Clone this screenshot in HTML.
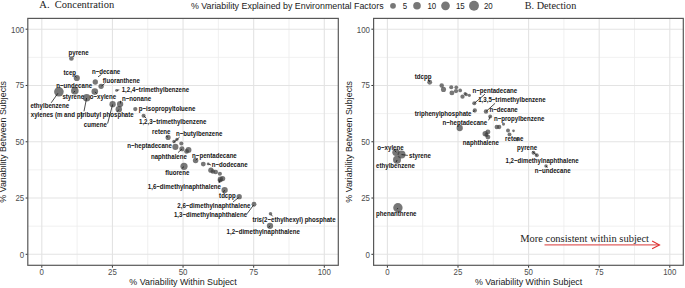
<!DOCTYPE html><html><head><meta charset="utf-8"><style>html,body{margin:0;padding:0;background:#fff;width:685px;height:288px;overflow:hidden}svg{display:block}text{font-family:"Liberation Sans",sans-serif}.s{font-family:"Liberation Serif",serif}.lb{font-size:7.40px;font-weight:bold;fill:#151515}.tk{font-size:8.6px;fill:#4d4d4d}.ti{font-size:8.9px;fill:#1a1a1a}</style></head><body>
<svg width="685" height="288" viewBox="0 0 685 288">
<rect width="685" height="288" fill="#fff"/>
<line x1="77.11" y1="18.4" x2="77.11" y2="265.3" stroke="#ececec" stroke-width="0.8"/>
<line x1="27.8" y1="226.16" x2="338.3" y2="226.16" stroke="#ececec" stroke-width="0.8"/>
<line x1="147.74" y1="18.4" x2="147.74" y2="265.3" stroke="#ececec" stroke-width="0.8"/>
<line x1="27.8" y1="169.89" x2="338.3" y2="169.89" stroke="#ececec" stroke-width="0.8"/>
<line x1="218.36" y1="18.4" x2="218.36" y2="265.3" stroke="#ececec" stroke-width="0.8"/>
<line x1="27.8" y1="113.61" x2="338.3" y2="113.61" stroke="#ececec" stroke-width="0.8"/>
<line x1="288.99" y1="18.4" x2="288.99" y2="265.3" stroke="#ececec" stroke-width="0.8"/>
<line x1="27.8" y1="57.34" x2="338.3" y2="57.34" stroke="#ececec" stroke-width="0.8"/>
<line x1="41.80" y1="18.4" x2="41.80" y2="265.3" stroke="#e3e3e3" stroke-width="1.1"/>
<line x1="27.8" y1="254.30" x2="338.3" y2="254.30" stroke="#e3e3e3" stroke-width="1.1"/>
<line x1="112.42" y1="18.4" x2="112.42" y2="265.3" stroke="#e3e3e3" stroke-width="1.1"/>
<line x1="27.8" y1="198.03" x2="338.3" y2="198.03" stroke="#e3e3e3" stroke-width="1.1"/>
<line x1="183.05" y1="18.4" x2="183.05" y2="265.3" stroke="#e3e3e3" stroke-width="1.1"/>
<line x1="27.8" y1="141.75" x2="338.3" y2="141.75" stroke="#e3e3e3" stroke-width="1.1"/>
<line x1="253.68" y1="18.4" x2="253.68" y2="265.3" stroke="#e3e3e3" stroke-width="1.1"/>
<line x1="27.8" y1="85.48" x2="338.3" y2="85.48" stroke="#e3e3e3" stroke-width="1.1"/>
<line x1="324.30" y1="18.4" x2="324.30" y2="265.3" stroke="#e3e3e3" stroke-width="1.1"/>
<line x1="27.8" y1="29.20" x2="338.3" y2="29.20" stroke="#e3e3e3" stroke-width="1.1"/>
<line x1="41.80" y1="265.3" x2="41.80" y2="267.70" stroke="#333" stroke-width="1"/>
<line x1="25.60" y1="254.30" x2="27.8" y2="254.30" stroke="#333" stroke-width="1"/>
<text class="tk" transform="translate(41.80,275.2) scale(0.92,1)" text-anchor="middle">0</text>
<text class="tk" transform="translate(24.20,258) scale(0.92,1)" text-anchor="end">0</text>
<line x1="112.42" y1="265.3" x2="112.42" y2="267.70" stroke="#333" stroke-width="1"/>
<line x1="25.60" y1="198.03" x2="27.8" y2="198.03" stroke="#333" stroke-width="1"/>
<text class="tk" transform="translate(112.42,275.2) scale(0.92,1)" text-anchor="middle">25</text>
<text class="tk" transform="translate(24.20,201) scale(0.92,1)" text-anchor="end">25</text>
<line x1="183.05" y1="265.3" x2="183.05" y2="267.70" stroke="#333" stroke-width="1"/>
<line x1="25.60" y1="141.75" x2="27.8" y2="141.75" stroke="#333" stroke-width="1"/>
<text class="tk" transform="translate(183.05,275.2) scale(0.92,1)" text-anchor="middle">50</text>
<text class="tk" transform="translate(24.20,145) scale(0.92,1)" text-anchor="end">50</text>
<line x1="253.68" y1="265.3" x2="253.68" y2="267.70" stroke="#333" stroke-width="1"/>
<line x1="25.60" y1="85.48" x2="27.8" y2="85.48" stroke="#333" stroke-width="1"/>
<text class="tk" transform="translate(253.68,275.2) scale(0.92,1)" text-anchor="middle">75</text>
<text class="tk" transform="translate(24.20,88) scale(0.92,1)" text-anchor="end">75</text>
<line x1="324.30" y1="265.3" x2="324.30" y2="267.70" stroke="#333" stroke-width="1"/>
<line x1="25.60" y1="29.20" x2="27.8" y2="29.20" stroke="#333" stroke-width="1"/>
<text class="tk" transform="translate(324.30,275.2) scale(0.92,1)" text-anchor="middle">100</text>
<text class="tk" transform="translate(24.20,32.6) scale(0.92,1)" text-anchor="end">100</text>
<text class="ti" x="183.05" y="284.9" text-anchor="middle">% Variability Within Subject</text>
<text class="ti" x="0" y="0" text-anchor="middle" transform="translate(6.30,141.85) rotate(-90)">% Variability Between Subjects</text>
<line x1="422.70" y1="18.4" x2="422.70" y2="265.3" stroke="#ececec" stroke-width="0.8"/>
<line x1="373.6" y1="226.16" x2="683.3" y2="226.16" stroke="#ececec" stroke-width="0.8"/>
<line x1="493.30" y1="18.4" x2="493.30" y2="265.3" stroke="#ececec" stroke-width="0.8"/>
<line x1="373.6" y1="169.89" x2="683.3" y2="169.89" stroke="#ececec" stroke-width="0.8"/>
<line x1="563.90" y1="18.4" x2="563.90" y2="265.3" stroke="#ececec" stroke-width="0.8"/>
<line x1="373.6" y1="113.61" x2="683.3" y2="113.61" stroke="#ececec" stroke-width="0.8"/>
<line x1="634.50" y1="18.4" x2="634.50" y2="265.3" stroke="#ececec" stroke-width="0.8"/>
<line x1="373.6" y1="57.34" x2="683.3" y2="57.34" stroke="#ececec" stroke-width="0.8"/>
<line x1="387.40" y1="18.4" x2="387.40" y2="265.3" stroke="#e3e3e3" stroke-width="1.1"/>
<line x1="373.6" y1="254.30" x2="683.3" y2="254.30" stroke="#e3e3e3" stroke-width="1.1"/>
<line x1="458.00" y1="18.4" x2="458.00" y2="265.3" stroke="#e3e3e3" stroke-width="1.1"/>
<line x1="373.6" y1="198.03" x2="683.3" y2="198.03" stroke="#e3e3e3" stroke-width="1.1"/>
<line x1="528.60" y1="18.4" x2="528.60" y2="265.3" stroke="#e3e3e3" stroke-width="1.1"/>
<line x1="373.6" y1="141.75" x2="683.3" y2="141.75" stroke="#e3e3e3" stroke-width="1.1"/>
<line x1="599.20" y1="18.4" x2="599.20" y2="265.3" stroke="#e3e3e3" stroke-width="1.1"/>
<line x1="373.6" y1="85.48" x2="683.3" y2="85.48" stroke="#e3e3e3" stroke-width="1.1"/>
<line x1="669.80" y1="18.4" x2="669.80" y2="265.3" stroke="#e3e3e3" stroke-width="1.1"/>
<line x1="373.6" y1="29.20" x2="683.3" y2="29.20" stroke="#e3e3e3" stroke-width="1.1"/>
<line x1="387.40" y1="265.3" x2="387.40" y2="267.70" stroke="#333" stroke-width="1"/>
<line x1="371.40" y1="254.30" x2="373.6" y2="254.30" stroke="#333" stroke-width="1"/>
<text class="tk" transform="translate(387.40,275.2) scale(0.92,1)" text-anchor="middle">0</text>
<text class="tk" transform="translate(370.00,258) scale(0.92,1)" text-anchor="end">0</text>
<line x1="458.00" y1="265.3" x2="458.00" y2="267.70" stroke="#333" stroke-width="1"/>
<line x1="371.40" y1="198.03" x2="373.6" y2="198.03" stroke="#333" stroke-width="1"/>
<text class="tk" transform="translate(458.00,275.2) scale(0.92,1)" text-anchor="middle">25</text>
<text class="tk" transform="translate(370.00,201) scale(0.92,1)" text-anchor="end">25</text>
<line x1="528.60" y1="265.3" x2="528.60" y2="267.70" stroke="#333" stroke-width="1"/>
<line x1="371.40" y1="141.75" x2="373.6" y2="141.75" stroke="#333" stroke-width="1"/>
<text class="tk" transform="translate(528.60,275.2) scale(0.92,1)" text-anchor="middle">50</text>
<text class="tk" transform="translate(370.00,145) scale(0.92,1)" text-anchor="end">50</text>
<line x1="599.20" y1="265.3" x2="599.20" y2="267.70" stroke="#333" stroke-width="1"/>
<line x1="371.40" y1="85.48" x2="373.6" y2="85.48" stroke="#333" stroke-width="1"/>
<text class="tk" transform="translate(599.20,275.2) scale(0.92,1)" text-anchor="middle">75</text>
<text class="tk" transform="translate(370.00,88) scale(0.92,1)" text-anchor="end">75</text>
<line x1="669.80" y1="265.3" x2="669.80" y2="267.70" stroke="#333" stroke-width="1"/>
<line x1="371.40" y1="29.20" x2="373.6" y2="29.20" stroke="#333" stroke-width="1"/>
<text class="tk" transform="translate(669.80,275.2) scale(0.92,1)" text-anchor="middle">100</text>
<text class="tk" transform="translate(370.00,32.6) scale(0.92,1)" text-anchor="end">100</text>
<text class="ti" x="528.60" y="284.9" text-anchor="middle">% Variability Within Subject</text>
<text class="ti" x="0" y="0" text-anchor="middle" transform="translate(352.10,141.85) rotate(-90)">% Variability Between Subjects</text>
<text class="s" x="39.3" y="7.9" font-size="10.5" fill="#222" xml:space="preserve">A.  Concentration</text>
<text class="s" x="524.8" y="8.8" font-size="10.2" fill="#222">B. Detection</text>
<text class="ti" x="190.9" y="9.2">% Variability Explained by Environmental Factors</text>
<circle cx="393" cy="5.8" r="2.9" fill="#3d3d3d" fill-opacity="0.7"/>
<text class="tk" transform="translate(402.8,9.0) scale(0.92,1)" style="fill:#222">5</text>
<circle cx="417" cy="5.8" r="3.8" fill="#3d3d3d" fill-opacity="0.7"/>
<text class="tk" transform="translate(427.4,9.0) scale(0.92,1)" style="fill:#222">10</text>
<circle cx="445.5" cy="5.8" r="4.35" fill="#3d3d3d" fill-opacity="0.7"/>
<text class="tk" transform="translate(455.9,9.0) scale(0.92,1)" style="fill:#222">15</text>
<circle cx="474" cy="5.8" r="4.95" fill="#3d3d3d" fill-opacity="0.7"/>
<text class="tk" transform="translate(483.9,9.0) scale(0.92,1)" style="fill:#222">20</text>
<circle cx="71.4" cy="58.5" r="2.35" fill="#3d3d3d" fill-opacity="0.7"/>
<circle cx="76.8" cy="78" r="3.1" fill="#3d3d3d" fill-opacity="0.7"/>
<circle cx="95.3" cy="82" r="2.65" fill="#3d3d3d" fill-opacity="0.7"/>
<circle cx="101.1" cy="86.3" r="2.65" fill="#3d3d3d" fill-opacity="0.7"/>
<circle cx="74.8" cy="90.7" r="3.8" fill="#3d3d3d" fill-opacity="0.7"/>
<circle cx="58.9" cy="91.8" r="4.8" fill="#3d3d3d" fill-opacity="0.7"/>
<circle cx="94.8" cy="91.6" r="3.3" fill="#3d3d3d" fill-opacity="0.7"/>
<circle cx="116.6" cy="90.4" r="1.45" fill="#3d3d3d" fill-opacity="0.7"/>
<circle cx="86.7" cy="97.7" r="3.8" fill="#3d3d3d" fill-opacity="0.7"/>
<circle cx="120.1" cy="104.1" r="3.15" fill="#3d3d3d" fill-opacity="0.7"/>
<circle cx="112.6" cy="104.2" r="3.15" fill="#3d3d3d" fill-opacity="0.7"/>
<circle cx="118.8" cy="109.3" r="3.2" fill="#3d3d3d" fill-opacity="0.7"/>
<circle cx="135.3" cy="109.1" r="2.15" fill="#3d3d3d" fill-opacity="0.7"/>
<circle cx="143.6" cy="115.8" r="2.05" fill="#3d3d3d" fill-opacity="0.7"/>
<circle cx="168.1" cy="137.4" r="2.55" fill="#3d3d3d" fill-opacity="0.7"/>
<circle cx="175.4" cy="146.9" r="3.05" fill="#3d3d3d" fill-opacity="0.7"/>
<circle cx="181.3" cy="143.5" r="2.05" fill="#3d3d3d" fill-opacity="0.7"/>
<circle cx="181.9" cy="148.8" r="2.55" fill="#3d3d3d" fill-opacity="0.7"/>
<circle cx="188.5" cy="149.9" r="2.95" fill="#3d3d3d" fill-opacity="0.7"/>
<circle cx="186.6" cy="151.4" r="2.45" fill="#3d3d3d" fill-opacity="0.7"/>
<circle cx="195.6" cy="160.5" r="2.75" fill="#3d3d3d" fill-opacity="0.7"/>
<circle cx="184" cy="166.3" r="3.6" fill="#3d3d3d" fill-opacity="0.7"/>
<circle cx="203.3" cy="164.1" r="2.45" fill="#3d3d3d" fill-opacity="0.7"/>
<circle cx="208.2" cy="163.9" r="1.45" fill="#3d3d3d" fill-opacity="0.7"/>
<circle cx="174.0" cy="141.6" r="1.75" fill="#3d3d3d" fill-opacity="0.7"/>
<circle cx="176.9" cy="139.3" r="1.65" fill="#3d3d3d" fill-opacity="0.7"/>
<circle cx="210.9" cy="170.2" r="2.65" fill="#3d3d3d" fill-opacity="0.7"/>
<circle cx="212.8" cy="171.4" r="2.25" fill="#3d3d3d" fill-opacity="0.7"/>
<circle cx="215.7" cy="172" r="2.35" fill="#3d3d3d" fill-opacity="0.7"/>
<circle cx="219.9" cy="173.8" r="2.05" fill="#3d3d3d" fill-opacity="0.7"/>
<circle cx="222.6" cy="178.6" r="2.65" fill="#3d3d3d" fill-opacity="0.7"/>
<circle cx="220.4" cy="179.2" r="2.65" fill="#3d3d3d" fill-opacity="0.7"/>
<circle cx="219.9" cy="180.6" r="2.15" fill="#3d3d3d" fill-opacity="0.7"/>
<circle cx="224.6" cy="190.1" r="3.15" fill="#3d3d3d" fill-opacity="0.7"/>
<circle cx="239.2" cy="196.7" r="2.65" fill="#3d3d3d" fill-opacity="0.7"/>
<circle cx="254" cy="204.3" r="2.45" fill="#3d3d3d" fill-opacity="0.7"/>
<circle cx="270.5" cy="213.75" r="1.75" fill="#3d3d3d" fill-opacity="0.7"/>
<circle cx="270" cy="225.8" r="3.15" fill="#3d3d3d" fill-opacity="0.7"/>
<circle cx="429.7" cy="82.3" r="2.45" fill="#3d3d3d" fill-opacity="0.7"/>
<circle cx="441.7" cy="85.6" r="2.25" fill="#3d3d3d" fill-opacity="0.7"/>
<circle cx="443.5" cy="89.4" r="2.55" fill="#3d3d3d" fill-opacity="0.7"/>
<circle cx="451.25" cy="87.3" r="2.05" fill="#3d3d3d" fill-opacity="0.7"/>
<circle cx="456.25" cy="87.3" r="1.85" fill="#3d3d3d" fill-opacity="0.7"/>
<circle cx="451.9" cy="92.9" r="2.45" fill="#3d3d3d" fill-opacity="0.7"/>
<circle cx="456" cy="91.1" r="2.15" fill="#3d3d3d" fill-opacity="0.7"/>
<circle cx="460.2" cy="90.4" r="1.85" fill="#3d3d3d" fill-opacity="0.7"/>
<circle cx="462.5" cy="96.7" r="2.15" fill="#3d3d3d" fill-opacity="0.7"/>
<circle cx="465.1" cy="93.6" r="1.55" fill="#3d3d3d" fill-opacity="0.7"/>
<circle cx="466.1" cy="94.6" r="1.75" fill="#3d3d3d" fill-opacity="0.7"/>
<circle cx="469.3" cy="95.3" r="1.65" fill="#3d3d3d" fill-opacity="0.7"/>
<circle cx="474.3" cy="103.3" r="2.05" fill="#3d3d3d" fill-opacity="0.7"/>
<circle cx="486" cy="111.5" r="2.25" fill="#3d3d3d" fill-opacity="0.7"/>
<circle cx="474.8" cy="110.5" r="2.15" fill="#3d3d3d" fill-opacity="0.7"/>
<circle cx="490.2" cy="116.5" r="1.95" fill="#3d3d3d" fill-opacity="0.7"/>
<circle cx="459.7" cy="128" r="3.15" fill="#3d3d3d" fill-opacity="0.7"/>
<circle cx="485.2" cy="133.7" r="2.65" fill="#3d3d3d" fill-opacity="0.7"/>
<circle cx="487.9" cy="131.9" r="2.45" fill="#3d3d3d" fill-opacity="0.7"/>
<circle cx="487.9" cy="137.1" r="2.45" fill="#3d3d3d" fill-opacity="0.7"/>
<circle cx="486.5" cy="134.9" r="2.05" fill="#3d3d3d" fill-opacity="0.7"/>
<circle cx="496.8" cy="127" r="2.25" fill="#3d3d3d" fill-opacity="0.7"/>
<circle cx="499.2" cy="127" r="2.15" fill="#3d3d3d" fill-opacity="0.7"/>
<circle cx="503.5" cy="124.1" r="1.55" fill="#3d3d3d" fill-opacity="0.7"/>
<circle cx="508" cy="130.5" r="1.95" fill="#3d3d3d" fill-opacity="0.7"/>
<circle cx="509.5" cy="134.4" r="1.95" fill="#3d3d3d" fill-opacity="0.7"/>
<circle cx="513.5" cy="130.8" r="1.35" fill="#3d3d3d" fill-opacity="0.7"/>
<circle cx="517.4" cy="139.4" r="1.75" fill="#3d3d3d" fill-opacity="0.7"/>
<circle cx="533.5" cy="152.8" r="1.95" fill="#3d3d3d" fill-opacity="0.7"/>
<circle cx="536.8" cy="155.2" r="1.95" fill="#3d3d3d" fill-opacity="0.7"/>
<circle cx="546" cy="166" r="1.75" fill="#3d3d3d" fill-opacity="0.7"/>
<circle cx="395.9" cy="152.3" r="3.6" fill="#3d3d3d" fill-opacity="0.7"/>
<circle cx="401.5" cy="154.5" r="4.0" fill="#3d3d3d" fill-opacity="0.7"/>
<circle cx="397" cy="159.8" r="4.0" fill="#3d3d3d" fill-opacity="0.7"/>
<circle cx="397.9" cy="207.8" r="4.7" fill="#3d3d3d" fill-opacity="0.7"/>
<line x1="57.9" y1="93.3" x2="51.2" y2="102.8" stroke="#111" stroke-width="0.75"/>
<line x1="86.6" y1="98.0" x2="84.0" y2="111.3" stroke="#111" stroke-width="0.75"/>
<line x1="112.6" y1="104.5" x2="107.6" y2="123.6" stroke="#111" stroke-width="0.75"/>
<line x1="101.5" y1="74.4" x2="98.0" y2="76.9" stroke="#111" stroke-width="0.75"/>
<line x1="101.5" y1="86.0" x2="104.6" y2="83.7" stroke="#111" stroke-width="0.75"/>
<line x1="74.4" y1="75.3" x2="76.4" y2="77.4" stroke="#111" stroke-width="0.75"/>
<line x1="117.0" y1="90.3" x2="119.3" y2="89.8" stroke="#111" stroke-width="0.75"/>
<line x1="120.5" y1="100.8" x2="120.4" y2="103.5" stroke="#111" stroke-width="0.75"/>
<line x1="117.4" y1="111.6" x2="118.8" y2="109.6" stroke="#111" stroke-width="0.75"/>
<line x1="143.8" y1="116.0" x2="146.4" y2="118.3" stroke="#111" stroke-width="0.75"/>
<line x1="74.8" y1="91.0" x2="73.6" y2="92.6" stroke="#111" stroke-width="0.75"/>
<line x1="94.9" y1="91.8" x2="96.8" y2="93.6" stroke="#111" stroke-width="0.75"/>
<line x1="168.0" y1="137.3" x2="166.1" y2="136.1" stroke="#111" stroke-width="0.75"/>
<line x1="179.6" y1="137.1" x2="173.5" y2="142.7" stroke="#111" stroke-width="0.75"/>
<line x1="182.0" y1="148.9" x2="178.0" y2="152.6" stroke="#111" stroke-width="0.75"/>
<line x1="195.8" y1="160.3" x2="197.6" y2="158.4" stroke="#111" stroke-width="0.75"/>
<line x1="184.0" y1="166.6" x2="182.0" y2="168.3" stroke="#111" stroke-width="0.75"/>
<line x1="208.5" y1="164.0" x2="211.0" y2="165.0" stroke="#111" stroke-width="0.75"/>
<line x1="219.9" y1="180.6" x2="219.0" y2="183.0" stroke="#111" stroke-width="0.75"/>
<line x1="224.6" y1="190.2" x2="223.2" y2="192.6" stroke="#111" stroke-width="0.75"/>
<line x1="238.6" y1="197.6" x2="233.1" y2="201.9" stroke="#111" stroke-width="0.75"/>
<line x1="253.6" y1="205.0" x2="247.0" y2="213.8" stroke="#111" stroke-width="0.75"/>
<line x1="271.0" y1="214.5" x2="272.6" y2="216.3" stroke="#111" stroke-width="0.75"/>
<line x1="270.0" y1="225.8" x2="268.6" y2="227.5" stroke="#111" stroke-width="0.75"/>
<line x1="429.5" y1="82.0" x2="428.6" y2="79.8" stroke="#111" stroke-width="0.75"/>
<line x1="474.3" y1="103.3" x2="484.9" y2="94.2" stroke="#111" stroke-width="0.75"/>
<line x1="486.0" y1="111.5" x2="495.1" y2="103.3" stroke="#111" stroke-width="0.75"/>
<line x1="474.8" y1="110.7" x2="472.8" y2="111.6" stroke="#111" stroke-width="0.75"/>
<line x1="490.2" y1="116.6" x2="488.6" y2="120.3" stroke="#111" stroke-width="0.75"/>
<line x1="396.2" y1="152.3" x2="394.6" y2="150.3" stroke="#111" stroke-width="0.75"/>
<line x1="401.5" y1="154.6" x2="407.8" y2="155.4" stroke="#111" stroke-width="0.75"/>
<line x1="397.1" y1="160.0" x2="396.0" y2="162.2" stroke="#111" stroke-width="0.75"/>
<line x1="532.5" y1="151.5" x2="537.0" y2="155.4" stroke="#111" stroke-width="0.75"/>
<line x1="546.0" y1="166.0" x2="547.5" y2="167.5" stroke="#111" stroke-width="0.75"/>
<line x1="398.0" y1="208.0" x2="397.0" y2="209.3" stroke="#111" stroke-width="0.75"/>
<text class="lb" transform="translate(68.6,55.0) scale(0.827,1)" xml:space="preserve">pyrene</text>
<text class="lb" transform="translate(63.5,74.8) scale(0.827,1)" xml:space="preserve">tcep</text>
<text class="lb" transform="translate(91.9,73.6) scale(0.827,1)" xml:space="preserve">n−decane</text>
<text class="lb" transform="translate(102.8,82.6) scale(0.827,1)" xml:space="preserve">fluoranthene</text>
<text class="lb" transform="translate(56.2,87.7) scale(0.827,1)" xml:space="preserve">n−undecane</text>
<text class="lb" transform="translate(121.7,92.0) scale(0.827,1)" xml:space="preserve">1,2,4−trimethylbenzene</text>
<text class="lb" transform="translate(62.4,98.5) scale(0.827,1)" xml:space="preserve">styrene</text>
<text class="lb" transform="translate(89.8,98.6) scale(0.827,1)" xml:space="preserve">o−xylene</text>
<text class="lb" transform="translate(122.0,101.0) scale(0.827,1)" xml:space="preserve">n−nonane</text>
<text class="lb" transform="translate(30.4,107.8) scale(0.827,1)" xml:space="preserve">ethylbenzene</text>
<text class="lb" transform="translate(138.8,110.9) scale(0.827,1)" xml:space="preserve">p−isopropyltoluene</text>
<text class="lb" transform="translate(30.8,117.2) scale(0.827,1)" xml:space="preserve">xylenes (m and p)</text>
<text class="lb" transform="translate(80.4,117.3) scale(0.827,1)" xml:space="preserve">tributyl phosphate</text>
<text class="lb" transform="translate(139.0,124.0) scale(0.827,1)" xml:space="preserve">1,2,3−trimethylbenzene</text>
<text class="lb" transform="translate(83.8,126.6) scale(0.827,1)" xml:space="preserve">cumene</text>
<text class="lb" transform="translate(152.1,134.2) scale(0.827,1)" xml:space="preserve">retene</text>
<text class="lb" transform="translate(176,135.7) scale(0.827,1)" xml:space="preserve">n−butylbenzene</text>
<text class="lb" transform="translate(127.3,147.6) scale(0.827,1)" xml:space="preserve">n−heptadecane</text>
<text class="lb" transform="translate(150.9,159.2) scale(0.827,1)" xml:space="preserve">naphthalene</text>
<text class="lb" transform="translate(192.1,158.0) scale(0.827,1)" xml:space="preserve">n−pentadecane</text>
<text class="lb" transform="translate(211.7,166.6) scale(0.827,1)" xml:space="preserve">n−dodecane</text>
<text class="lb" transform="translate(165.2,175.0) scale(0.827,1)" xml:space="preserve">fluorene</text>
<text class="lb" transform="translate(147.8,189) scale(0.827,1)" xml:space="preserve">1,6−dimethylnaphthalene</text>
<text class="lb" transform="translate(219.1,197.5) scale(0.827,1)" xml:space="preserve">tdcpp</text>
<text class="lb" transform="translate(177.3,208.0) scale(0.827,1)" xml:space="preserve">2,6−dimethylnaphthalene</text>
<text class="lb" transform="translate(173.9,217.0) scale(0.827,1)" xml:space="preserve">1,3−dimethylnaphthalene</text>
<text class="lb" transform="translate(252.5,221.9) scale(0.827,1)" xml:space="preserve">tris(2−ethylhexyl) phosphate</text>
<text class="lb" transform="translate(226.6,233.5) scale(0.827,1)" xml:space="preserve">1,2−dimethylnaphthalene</text>
<text class="lb" transform="translate(414.8,79.3) scale(0.827,1)" xml:space="preserve">tdcpp</text>
<text class="lb" transform="translate(472.5,92.5) scale(0.827,1)" xml:space="preserve">n−pentadecane</text>
<text class="lb" transform="translate(478.2,101.9) scale(0.827,1)" xml:space="preserve">1,3,5−trimethylbenzene</text>
<text class="lb" transform="translate(489.4,112.0) scale(0.827,1)" xml:space="preserve">n−decane</text>
<text class="lb" transform="translate(414.8,116.0) scale(0.827,1)" xml:space="preserve">triphenylphosphate</text>
<text class="lb" transform="translate(493.9,121.0) scale(0.827,1)" xml:space="preserve">n−propylbenzene</text>
<text class="lb" transform="translate(442.5,124.8) scale(0.827,1)" xml:space="preserve">n−heptadecane</text>
<text class="lb" transform="translate(505.1,140.5) scale(0.827,1)" xml:space="preserve">retene</text>
<text class="lb" transform="translate(462.8,144.6) scale(0.827,1)" xml:space="preserve">naphthalene</text>
<text class="lb" transform="translate(517.1,150.0) scale(0.827,1)" xml:space="preserve">pyrene</text>
<text class="lb" transform="translate(377.3,149.6) scale(0.827,1)" xml:space="preserve">o−xylene</text>
<text class="lb" transform="translate(409.1,157.8) scale(0.827,1)" xml:space="preserve">styrene</text>
<text class="lb" transform="translate(505.5,162.6) scale(0.827,1)" xml:space="preserve">1,2−dimethylnaphthalene</text>
<text class="lb" transform="translate(376.1,168.2) scale(0.827,1)" xml:space="preserve">ethylbenzene</text>
<text class="lb" transform="translate(534.7,172.8) scale(0.827,1)" xml:space="preserve">n−undecane</text>
<text class="lb" transform="translate(376.1,215.7) scale(0.827,1)" xml:space="preserve">phenanthrene</text>
<text class="s" x="520.2" y="241.5" font-size="10.48" fill="#222">More consistent within subject</text>
<line x1="544.5" y1="244.9" x2="659.3" y2="244.9" stroke="#e06060" stroke-width="1.1"/>
<polyline points="652.1,241.1 659.5,244.9 652.1,248.7" fill="none" stroke="#e03030" stroke-width="1.1"/>
<rect x="27.8" y="18.4" width="310.50" height="246.90" fill="none" stroke="#585858" stroke-width="1.2"/>
<rect x="373.6" y="18.4" width="309.70" height="246.90" fill="none" stroke="#585858" stroke-width="1.2"/>
</svg></body></html>
